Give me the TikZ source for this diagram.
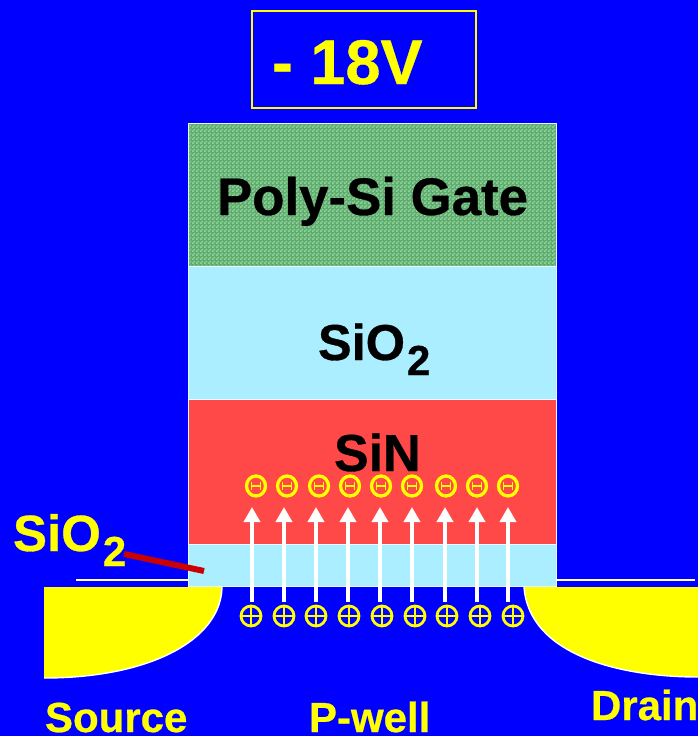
\documentclass[tikz,border=0pt]{standalone}
\usepackage{fontspec}
\setmainfont{Liberation Sans}[BoldFont={* Bold},BoldFeatures={FakeBold=0.6}]
\usetikzlibrary{arrows.meta,patterns,shapes.geometric}
\definecolor{bgblue}{HTML}{0000FF}
\definecolor{lightox}{HTML}{AAEEFF}
\definecolor{nitride}{HTML}{FF4848}
\definecolor{ptyellow}{HTML}{FFFF00}
\definecolor{redbar}{HTML}{CC0000}
\definecolor{gatebase}{HTML}{5FAE70}
\definecolor{gatedot}{HTML}{93D49E}
\pgfdeclarepatternformonly{gatedots}{\pgfqpoint{0pt}{0pt}}{\pgfqpoint{4pt}{4pt}}{\pgfqpoint{4pt}{4pt}}{%
  \pgfpathrectangle{\pgfqpoint{0pt}{0pt}}{\pgfqpoint{2pt}{2pt}}%
  \pgfpathrectangle{\pgfqpoint{2pt}{2pt}}{\pgfqpoint{2pt}{2pt}}%
  \pgfusepath{fill}}
\newcommand{\fsz}[1]{\fontsize{#1}{#1}\selectfont\bfseries}
\newcommand{\oxtwo}{SiO\kern2pt\raisebox{-15pt}{\fontsize{42}{42}\selectfont 2}}
\tikzset{
  every node/.style={inner sep=0pt,outer sep=0pt},
  lbl/.style={anchor=base west,font=\fsz{42}},
  layer/.style={draw=white!70!lightox,line width=1pt},
  charge/.style={draw=ptyellow,line width=2.8pt,minimum size=20pt,circle},
  trapped/.style={draw=ptyellow,line width=3.3pt,ellipse,minimum width=19pt,minimum height=20pt},
  inject/.style={draw=white,line width=3.6pt,-{Triangle[width=16pt,length=15pt]}},
  ledge/.style={draw=white,line width=2.6pt},
}
\begin{document}
\begin{tikzpicture}[x=1pt,y=-1pt]
\useasboundingbox (0,0) rectangle (698,736);
\fill[bgblue] (0,0) rectangle (698,736);
% voltage box
\node[draw=ptyellow,line width=1.8pt,minimum width=224pt,minimum height=97pt] (vbox) at (364,59.5) {};
\node[anchor=base west,font=\fsz{63},text=ptyellow] (vlabel) at (272,84) {- 18V};
% stack
\fill[gatebase] (188,123) rectangle (556,266);
\fill[pattern=gatedots,pattern color=gatedot] (188,123) rectangle (556,266);
\draw[layer,fill=none] (188,123) rectangle (556,266);
\draw[layer,fill=lightox] (188,266) rectangle (556,399);
\draw[layer,fill=nitride] (188,399) rectangle (556,544);
\draw[layer,fill=lightox] (188,544) rectangle (556,586.5);
\node[anchor=base west,font=\fsz{52.8},text=black] (gatelabel) at (217,215) {Poly-Si Gate};
\node[anchor=base west,font=\fsz{50.5},text=black] (oxlabel) at (318,360) {\oxtwo};
\node[anchor=base west,font=\fsz{52},text=black] (sinlabel) at (334,471) {SiN};
% surface lines
\coordinate (ll) at (76,580); \coordinate (lr) at (188,580);
\coordinate (rl) at (556,580); \coordinate (rr) at (695,580);
\draw[ledge] (ll) -- (lr);
\draw[ledge] (rl) -- (rr);
% source and drain
\fill[ptyellow] (44,587) -- (222,587) .. controls (221,640) and (150,678) .. (44,678) -- cycle;
\draw[white,line width=1.4pt] (222,587) .. controls (221,640) and (150,678) .. (44,678);
\fill[ptyellow] (698,587) -- (524,587) .. controls (529,655) and (620,677) .. (698,677) -- cycle;
\draw[white,line width=1.4pt] (524,587) .. controls (529,655) and (620,677) .. (698,677);
% oxide pointer and label
\node[anchor=base west,font=\fsz{51},text=ptyellow] (oxleft) at (13,551) {\oxtwo};
\coordinate (pa) at (124,554); \coordinate (pb) at (204,571);
\draw[redbar,line width=6pt] (pa) -- (pb);
% holes, injection arrows, trapped charges
\foreach \i/\xp/\xa/\xm in {1/251/252/256,2/284/284/287,3/316/316/319,4/349/348/350,5/382/380/381,6/415/412/412,7/447/445/446,8/480/477/477,9/513/508/508}{
  \node[charge] (p\i) at (\xp,616) {};
  \draw[ptyellow,line width=2.8pt] (p\i.west) -- (p\i.east) (p\i.north) -- (p\i.south);
  \node[trapped] (m\i) at (\xm,486) {};
  \draw[ptyellow,line width=1.8pt] (\xm-4.5,486) -- (\xm+4.5,486) (\xm-4.5,482) -- (\xm-4.5,490) (\xm+4.5,482) -- (\xm+4.5,490);
  \coordinate (as\i) at (\xa,602);
  \coordinate (ae\i) at (\xa,507);
  \draw[inject] (as\i) -- (ae\i);
}
% bottom labels
\node[lbl,text=ptyellow] (src) at (45,732) {Source};
\node[lbl,text=ptyellow] (well) at (309,732) {P-well};
\node[lbl,text=ptyellow] (drn) at (591,720) {Drain};
\end{tikzpicture}
\end{document}
